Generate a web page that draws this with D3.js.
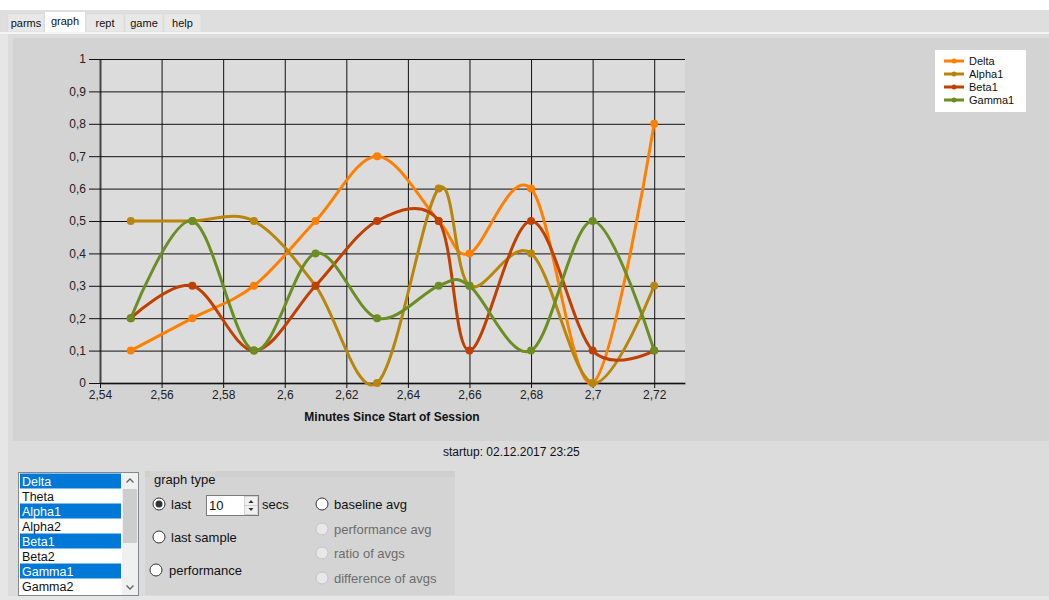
<!DOCTYPE html>
<html>
<head>
<meta charset="utf-8">
<script src="https://cdn.jsdelivr.net/npm/d3@7"></script>
<style>
  html, body { margin: 0; padding: 0; background: #ffffff; }
  svg { display: block; font-family: "Liberation Sans", Arial, sans-serif; }
</style>
</head>
<body>
<svg id="root" width="1049" height="600"></svg>
<script>
// ---------------- DATA ----------------
const minutes = [2.55, 2.57, 2.59, 2.61, 2.63, 2.65, 2.66, 2.68, 2.70, 2.72];
const deltaValues  = [0.1, 0.2, 0.3, 0.5, 0.7, 0.5, 0.4, 0.6, 0.0, 0.8];
const alpha1Values = [0.5, 0.5, 0.5, 0.3, 0.0, 0.6, 0.3, 0.4, 0.0, 0.3];
const beta1Values  = [0.2, 0.3, 0.1, 0.3, 0.5, 0.5, 0.1, 0.5, 0.1, 0.1];
const gamma1Values = [0.2, 0.5, 0.1, 0.4, 0.2, 0.3, 0.3, 0.1, 0.5, 0.1];
const seriesNames  = ["Delta", "Alpha1", "Beta1", "Gamma1"];
const seriesColors = ["#ff8000", "#b8860b", "#c04000", "#6b8e23"];
const xTicks = [2.54, 2.56, 2.58, 2.60, 2.62, 2.64, 2.66, 2.68, 2.70, 2.72];
const yTicks = [0, 0.1, 0.2, 0.3, 0.4, 0.5, 0.6, 0.7, 0.8, 0.9, 1];
const tabs = ["parms", "graph", "rept", "game", "help"];
const bandList = ["Delta", "Theta", "Alpha1", "Alpha2", "Beta1", "Beta2", "Gamma1", "Gamma2"];
const bandSelected = [true, false, true, false, true, false, true, false];
const xTitle = "Minutes Since Start of Session";
const startupText = "startup: 02.12.2017 23:25";

const seriesValues = [deltaValues, alpha1Values, beta1Values, gamma1Values];

// ---------------- LAYOUT ----------------
const svg = d3.select("#root");
const fmt = v => String(+v.toFixed(2)).replace(".", ",");

// page / tab strip
svg.append("rect").attr("x", 0).attr("y", 0).attr("width", 1049).attr("height", 600).attr("fill", "#ffffff");
svg.append("rect").attr("x", 0).attr("y", 10).attr("width", 1049).attr("height", 22).attr("fill", "#dedede");
const tabBoxes = [[8, 44], [45, 85], [86, 124], [125, 163], [164, 201]];
tabs.forEach((t, i) => {
  const [x0, x1] = tabBoxes[i];
  const sel = i === 1;
  svg.append("rect").attr("x", x0).attr("y", sel ? 12 : 14).attr("width", x1 - x0).attr("height", sel ? 21 : 18)
    .attr("fill", sel ? "#ffffff" : "#e8e8e8").attr("stroke", sel ? "none" : "#d6d6d6").attr("stroke-width", 0.5);
  svg.append("text").attr("x", (x0 + x1) / 2).attr("y", sel ? 25 : 27).attr("text-anchor", "middle")
    .attr("font-size", 11).attr("fill", "#111").text(t);
});
// panel
svg.append("rect").attr("x", 0).attr("y", 32).attr("width", 1049).attr("height", 2).attr("fill", "#f4f4f4");
svg.append("rect").attr("x", 0).attr("y", 34).attr("width", 1049).attr("height", 566).attr("fill", "#dcdcdc");
svg.append("rect").attr("x", 0).attr("y", 34).attr("width", 8).attr("height", 566).attr("fill", "#e6e6e6");
svg.append("rect").attr("x", 0).attr("y", 596).attr("width", 1049).attr("height", 4).attr("fill", "#e6e6e6");

// chart area
svg.append("rect").attr("x", 13).attr("y", 38).attr("width", 1036).attr("height", 403).attr("fill", "#d3d3d3");

const x = d3.scaleLinear().domain([2.54, 2.73]).range([100, 685]);
const y = d3.scaleLinear().domain([0, 1]).range([383, 59]);

// plot background
svg.append("rect").attr("x", x(2.54)).attr("y", y(1)).attr("width", x(2.73) - x(2.54)).attr("height", y(0) - y(1)).attr("fill", "#dcdcdc");

// gridlines via axes
const gx = svg.append("g").attr("transform", `translate(0,${y(0)})`)
  .call(d3.axisBottom(x).tickValues(xTicks).tickFormat(fmt).tickSizeInner(-(y(0) - y(1))).tickSizeOuter(0).tickPadding(9));
gx.selectAll(".tick line").attr("stroke", "#111").attr("stroke-width", 1).attr("y2", 5).attr("y1", -(y(0) - y(1)));
gx.select(".domain").attr("stroke", "#555").attr("stroke-width", 2);
gx.selectAll(".tick text").attr("font-size", 12).attr("fill", "#222").attr("font-family", "Liberation Sans, Arial").attr("dy", "0.55em");

const gy = svg.append("g").attr("transform", `translate(${x(2.54)},0)`)
  .call(d3.axisLeft(y).tickValues(yTicks).tickFormat(fmt).tickSizeOuter(0).tickPadding(3));
gy.selectAll(".tick line").attr("stroke", "#111").attr("stroke-width", 1).attr("x1", -11).attr("x2", x(2.73) - x(2.54));
gy.select(".domain").attr("stroke", "#444").attr("stroke-width", 2);
gy.selectAll(".tick text").attr("font-size", 12).attr("fill", "#222").attr("font-family", "Liberation Sans, Arial").attr("x", -14);

// axis title
svg.append("text").attr("x", 392).attr("y", 421).attr("text-anchor", "middle").attr("font-size", 12)
  .attr("font-weight", "bold").attr("fill", "#111").text(xTitle);

// series
const line = d3.line().x(d => x(d[0])).y(d => y(d[1])).curve(d3.curveCardinal.tension(0));
seriesValues.forEach((vals, i) => {
  const pts = minutes.map((m, j) => [m, vals[j]]);
  svg.append("path").datum(pts).attr("d", line).attr("fill", "none")
    .attr("stroke", seriesColors[i]).attr("stroke-width", 3).attr("stroke-linejoin", "round");
  svg.append("g").selectAll("circle").data(pts).join("circle")
    .attr("cx", d => x(d[0])).attr("cy", d => y(d[1])).attr("r", 4).attr("fill", seriesColors[i]);
});

// legend
const lg = svg.append("g");
lg.append("rect").attr("x", 935).attr("y", 50).attr("width", 91).attr("height", 62).attr("fill", "#ffffff");
seriesNames.forEach((n, i) => {
  const yy = 61 + i * 13;
  lg.append("line").attr("x1", 944).attr("x2", 964).attr("y1", yy).attr("y2", yy).attr("stroke", seriesColors[i]).attr("stroke-width", 3);
  lg.append("circle").attr("cx", 954).attr("cy", yy).attr("r", 2.5).attr("fill", seriesColors[i]);
  lg.append("text").attr("x", 969).attr("y", yy + 4).attr("font-size", 11).attr("fill", "#111").text(n);
});

// startup text
svg.append("text").attr("x", 443).attr("y", 456).attr("font-size", 12).attr("fill", "#111").text(startupText);

// list box
const lb = svg.append("g");
lb.append("rect").attr("x", 18.5).attr("y", 472.5).attr("width", 120).attr("height", 123).attr("fill", "#ffffff").attr("stroke", "#828790");
bandList.forEach((b, i) => {
  const top = 473.5 + i * 15;
  if (bandSelected[i]) lb.append("rect").attr("x", 20).attr("y", top).attr("width", 101).attr("height", 15).attr("fill", "#0078d7");
  lb.append("text").attr("x", 22).attr("y", top + 12).attr("font-size", 12.5)
    .attr("fill", bandSelected[i] ? "#ffffff" : "#111").text(b);
});
lb.append("rect").attr("x", 122).attr("y", 473).attr("width", 16).attr("height", 122).attr("fill", "#f0f0f0");
lb.append("rect").attr("x", 123).attr("y", 489).attr("width", 14).attr("height", 54).attr("fill", "#cdcdcd");
lb.append("path").attr("d", "M126.5,482.5 L130,479 L133.5,482.5").attr("fill", "none").attr("stroke", "#606060").attr("stroke-width", 1.3);
lb.append("path").attr("d", "M126.5,585.5 L130,589 L133.5,585.5").attr("fill", "none").attr("stroke", "#606060").attr("stroke-width", 1.3);

// group box
const gb = svg.append("g");
gb.append("rect").attr("x", 145).attr("y", 471).attr("width", 310).attr("height", 124).attr("fill", "#d4d4d4");
gb.append("rect").attr("x", 145).attr("y", 471).attr("width", 310).attr("height", 6).attr("fill", "#cfcfcf");
gb.append("rect").attr("x", 150).attr("y", 471).attr("width", 65).attr("height", 16).attr("fill", "#d4d4d4");
gb.append("text").attr("x", 154).attr("y", 484).attr("font-size", 13).attr("fill", "#111").text("graph type");

function radio(cx, cy, label, tx, checked, disabled) {
  gb.append("circle").attr("cx", cx).attr("cy", cy).attr("r", 6)
    .attr("fill", disabled ? "#e8e8e8" : "#ffffff").attr("stroke", disabled ? "#c4c4c4" : "#333").attr("stroke-width", 1);
  if (checked) gb.append("circle").attr("cx", cx).attr("cy", cy).attr("r", 3.5).attr("fill", "#333");
  gb.append("text").attr("x", tx).attr("y", cy + 5).attr("font-size", 13).attr("fill", disabled ? "#6d6d6d" : "#111").text(label);
}
radio(159, 504, "last", 171, true, false);
radio(159, 537, "last sample", 171, false, false);
radio(156, 570, "performance", 169, false, false);
radio(322, 504, "baseline avg", 334, false, false);
radio(322, 529, "performance avg", 334, false, true);
radio(322, 553, "ratio of avgs", 334, false, true);
radio(322, 578, "difference of avgs", 334, false, true);

// numeric up-down
gb.append("rect").attr("x", 206.5).attr("y", 495.5).attr("width", 52).attr("height", 20).attr("fill", "#ffffff").attr("stroke", "#7a7a7a");
gb.append("text").attr("x", 209).attr("y", 510).attr("font-size", 13).attr("fill", "#111").text("10");
gb.append("rect").attr("x", 244.5).attr("y", 496.5).attr("width", 13).attr("height", 18).attr("fill", "#f0f0f0").attr("stroke", "#adadad").attr("stroke-width", 0.5);
gb.append("line").attr("x1", 244.5).attr("x2", 257.5).attr("y1", 505.5).attr("y2", 505.5).attr("stroke", "#adadad").attr("stroke-width", 0.5);
gb.append("path").attr("d", "M248.5,503 L251,500 L253.5,503 Z").attr("fill", "#333");
gb.append("path").attr("d", "M248.5,508 L251,511 L253.5,508 Z").attr("fill", "#333");
gb.append("text").attr("x", 262).attr("y", 509).attr("font-size", 13).attr("fill", "#111").text("secs");
</script>
</body>
</html>
